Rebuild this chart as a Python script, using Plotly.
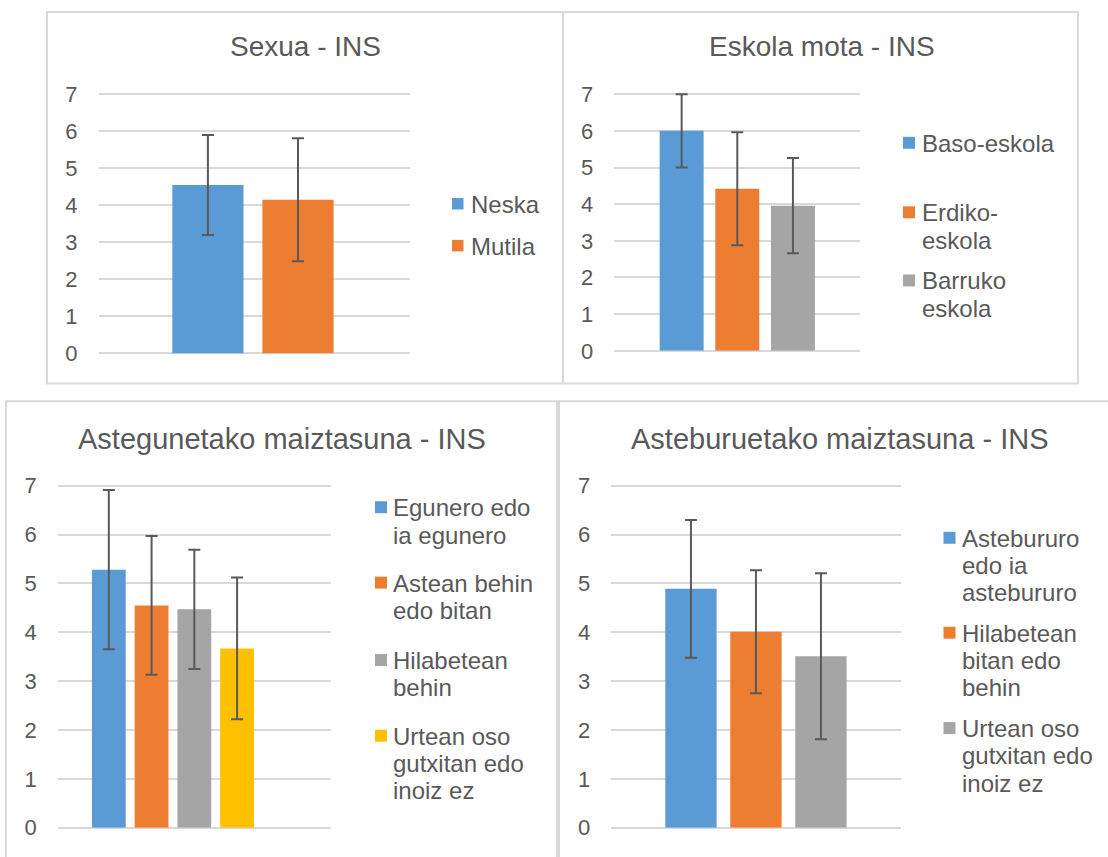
import plotly.graph_objects as go

W, H = 1108, 857

# ---- data -------------------------------------------------------------
y_ticks = [0, 1, 2, 3, 4, 5, 6, 7]

sexua_names = ["Neska", "Mutila"]
sexua_labels = ["Neska", "Mutila"]
sexua_means = [4.55, 4.15]
sexua_sd = [1.35, 1.66]

eskola_names = ["Baso-eskola", "Erdiko-eskola", "Barruko eskola"]
eskola_labels = ["Baso-eskola", "Erdiko-\neskola", "Barruko\neskola"]
eskola_means = [6.0, 4.42, 3.96]
eskola_sd = [1.0, 1.54, 1.30]

astegun_names = ["Egunero edo ia egunero", "Astean behin edo bitan",
                 "Hilabetean behin", "Urtean oso gutxitan edo inoiz ez"]
astegun_labels = ["Egunero edo\nia egunero", "Astean behin\nedo bitan",
                  "Hilabetean\nbehin", "Urtean oso\ngutxitan edo\ninoiz ez"]
astegun_means = [5.28, 4.55, 4.47, 3.67]
astegun_sd = [1.63, 1.42, 1.22, 1.45]

asteburu_names = ["Astebururo edo ia astebururo", "Hilabetean bitan edo behin",
                  "Urtean oso gutxitan edo inoiz ez"]
asteburu_labels = ["Astebururo\nedo ia\nastebururo", "Hilabetean\nbitan edo\nbehin",
                   "Urtean oso\ngutxitan edo\ninoiz ez"]
asteburu_means = [4.89, 4.01, 3.51]
asteburu_sd = [1.41, 1.26, 1.70]

# ---- styling ----------------------------------------------------------
BLUE, ORANGE, GRAY, YELLOW = "#5B9BD5", "#ED7D31", "#A5A5A5", "#FFC000"
TEXT = "#595959"
GRID = "#D9D9D9"
ERR = "#595959"
FONT = "Liberation Sans, Arial, sans-serif"
BARGAP = 0.3
BARGROUPGAP = 0.21
LEG_SIZE = 24
LEG_LINE = 27.4
TICK_SIZE = 22
Y_MAX = 7.03  # a hair above the top tick so its gridline is kept

# vertical placement: page rows are mapped through a small linear correction
Y_OFF, Y_SCALE = 10.2, 0.9757

panels = [
    dict(title="Sexua - INS", names=sexua_names, labels=sexua_labels,
         means=sexua_means, sd=sexua_sd, colors=[BLUE, ORANGE],
         box=(47, 8, 563, 384), plot=(98.6, 93.7, 409.8, 354.0),
         title_xy=(305, 46), title_size=28, group_frac=0.579, center_frac=0.496,
         leg_sq=(452, 463.5), leg_text=469, leg_y=[203.7, 245.7]),
    dict(title="Eskola mota - INS", names=eskola_names, labels=eskola_labels,
         means=eskola_means, sd=eskola_sd, colors=[BLUE, ORANGE, GRAY],
         box=(563, 8, 1078, 384), plot=(614.3, 93.7, 859.8, 351.3),
         title_xy=(822, 46), title_size=28, group_frac=0.68, center_frac=0.501,
         leg_sq=(903, 915), leg_text=920, leg_y=[142.5, 212.3, 280.7]),
    dict(title="Astegunetako maiztasuna - INS", names=astegun_names, labels=astegun_labels,
         means=astegun_means, sd=astegun_sd, colors=[BLUE, ORANGE, GRAY, YELLOW],
         box=(6, 402, 557, 900), plot=(57.8, 486.7, 331.0, 830.0),
         title_xy=(282, 440), title_size=29, group_frac=0.626, center_frac=0.4215,
         leg_sq=(375, 387), leg_text=391, leg_y=[508.3, 584, 661.7, 737.7]),
    dict(title="Asteburuetako maiztasuna - INS", names=asteburu_names, labels=asteburu_labels,
         means=asteburu_means, sd=asteburu_sd, colors=[BLUE, ORANGE, GRAY],
         box=(559, 402, 1130, 900), plot=(611.3, 486.7, 900.6, 830.0),
         title_xy=(839, 440), title_size=29, group_frac=0.674, center_frac=0.5,
         leg_sq=(943.5, 955.5), leg_text=960, leg_y=[539, 634.3, 730]),
]


def fx(px):
    return px / W


def fy(py):
    row = max((py - Y_OFF) / Y_SCALE, 1.0)
    return 1 - row / H


fig = go.Figure()
shapes, annotations = [], []
layout_axes = {}

for i, p in enumerate(panels):
    s = "" if i == 0 else str(i + 1)
    x0, y0, x1, y1 = p["plot"]
    y_top = y0 - (y1 - y0) * (Y_MAX - 7) / 7

    for name, m, sd, c in zip(p["names"], p["means"], p["sd"], p["colors"]):
        fig.add_trace(go.Bar(
            x=["INS"], y=[m], name=name, marker=dict(color=c, line=dict(width=0)),
            error_y=dict(type="data", array=[sd], color=ERR, thickness=2, width=6),
            xaxis="x" + s, yaxis="y" + s, showlegend=False,
        ))

    span = (1 - BARGAP) / p["group_frac"]
    lo = -p["center_frac"] * span
    layout_axes["xaxis" + s] = dict(
        domain=[fx(x0), fx(x1)], anchor="y" + s, range=[lo, lo + span],
        showticklabels=False, showgrid=False, zeroline=False, showline=False,
        fixedrange=True,
    )
    layout_axes["yaxis" + s] = dict(
        domain=[fy(y1), fy(y_top)], anchor="x" + s, range=[0, Y_MAX],
        tickvals=y_ticks, ticktext=[str(t) for t in y_ticks],
        showgrid=True, gridcolor=GRID, gridwidth=1.5,
        zeroline=True, zerolinecolor=GRID, zerolinewidth=1.5,
        showline=False, ticks="", ticklabelstandoff=20,
        tickfont=dict(family=FONT, size=TICK_SIZE, color=TEXT), fixedrange=True,
    )

    bx0, by0, bx1, by1 = p["box"]
    shapes.append(dict(type="rect", xref="paper", yref="paper",
                       x0=fx(bx0), x1=fx(bx1), y0=fy(by1), y1=fy(by0),
                       line=dict(color=GRID, width=2), fillcolor="rgba(0,0,0,0)",
                       layer="below"))

    tx, ty = p["title_xy"]
    annotations.append(dict(text=p["title"], xref="paper", yref="paper",
                            x=fx(tx), y=fy(ty), xanchor="center", yanchor="middle",
                            showarrow=False,
                            font=dict(family=FONT, size=p["title_size"], color=TEXT)))

    # legend: colour swatch plus the (wrapped) series label
    sq0, sq1 = p["leg_sq"]
    half = (sq1 - sq0) / 2
    for label, c, ly in zip(p["labels"], p["colors"], p["leg_y"]):
        shapes.append(dict(type="rect", xref="paper", yref="paper",
                           x0=fx(sq0), x1=fx(sq1), y0=fy(ly + half), y1=fy(ly - half),
                           line=dict(width=0), fillcolor=c))
        for k, line in enumerate(label.split("\n")):
            annotations.append(dict(text=line, xref="paper", yref="paper",
                                    x=fx(p["leg_text"]), y=fy(ly + k * LEG_LINE + 0.5),
                                    xanchor="left", yanchor="middle", align="left",
                                    showarrow=False,
                                    font=dict(family=FONT, size=LEG_SIZE, color=TEXT)))

fig.update_layout(
    width=W, height=H, margin=dict(l=0, r=0, t=0, b=0),
    paper_bgcolor="white", plot_bgcolor="white",
    barmode="group", bargap=BARGAP, bargroupgap=BARGROUPGAP,
    shapes=shapes, annotations=annotations, showlegend=False,
    **layout_axes,
)

fig.write_html("out.html", config={"displayModeBar": False})
